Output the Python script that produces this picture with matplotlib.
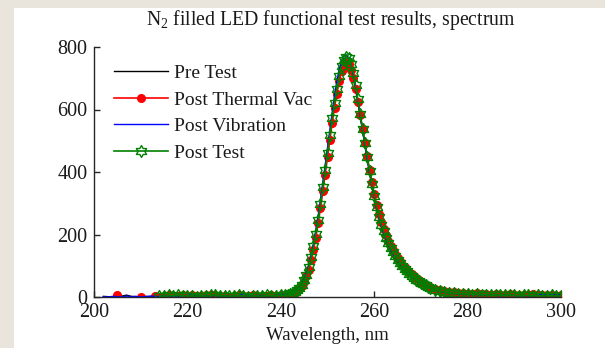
import numpy as np
import matplotlib
matplotlib.use("Agg")
import matplotlib.pyplot as plt
from matplotlib.path import Path
from matplotlib.patches import Rectangle

nan = float("nan")

# ---------------- data ----------------
wavelength = [
    202, 203, 204, 205, 206, 207, 208, 209, 210, 211, 212, 213, 214, 215, 216, 217, 218, 219, 220, 221,
    222, 223, 224, 225, 226, 227, 228, 229, 230, 231, 232, 233, 234, 235, 236, 237, 238, 239, 240, 241,
    241.5, 242, 242.5, 243, 243.5, 244, 244.5, 245, 245.5, 246,
    246.5, 247, 247.5, 248, 248.5, 249, 249.5, 250, 250.5, 251,
    251.5, 252, 252.5, 253, 253.5, 254, 254.5, 255, 255.5, 256,
    256.5, 257, 257.5, 258, 258.5, 259, 259.5, 260, 260.5, 261,
    261.5, 262, 262.5, 263, 263.5, 264, 264.5, 265, 265.5, 266,
    266.5, 267, 267.5, 268, 268.5, 269, 269.5, 270, 270.5, 271,
    271.5, 272,
    273, 274, 275, 276, 277, 278, 279, 280, 281, 282, 283, 284, 285, 286, 287, 288, 289, 290,
    291, 292, 293, 294, 295, 296, 297, 298, 299, 300,
]

pre_test = [
    2, 1, 0, 1, 3, 6, 2, 1, 0, 2, 1, 3, 2, 1, 3, 2, 4, 3, 2, 4,
    3, 2, 4, 5, 3, 4, 2, 3, 4, 3, 5, 4, 3, 5, 4, 5, 6, 5, 7, 8,
    10, 12, 15, 19, 24, 32, 42, 57, 76, 101,
    131, 167, 208, 254, 304, 359, 414, 470, 526, 580,
    630, 675, 714, 744, 762, 768, 762, 743, 713, 673,
    629, 583, 535, 489, 444, 400, 359, 320, 285, 254,
    229, 207, 188, 170, 155, 141, 128, 117, 106, 97,
    89, 81, 74, 67, 61, 55, 50, 45, 41, 37,
    33, 30,
    24, 19, 16, 14, 12, 11, 10, 9, 8, 9, 8, 7, 7, 6, 6, 5, 6, 5,
    4, 5, 4, 4, 5, 3, 4, 4, 3, 3,
]

post_thermal_vac = [
    nan, nan, nan, 8, nan, nan, nan, nan, 1, nan, nan, 2, 1, 3, 5, 2, 4, 6, 3, 5,
    2, 4, 6, 8, 5, 3, 4, 1, 2, 6, 4, 3, 5, 2, 4, 3, 5, 4, 6, 8,
    9, 10, 12, 14, 19, 26, 35, 48, 66, 88,
    118, 152, 190, 236, 285, 338, 392, 447, 503, 556,
    606, 650, 690, 722, 742, 750, 745, 728, 702, 665,
    625, 582, 537, 493, 450, 408, 368, 331, 296, 266,
    240, 218, 198, 180, 164, 150, 137, 125, 114, 104,
    95, 87, 80, 73, 66, 60, 54, 49, 44, 40,
    36, 33,
    27, 22, 18, 16, 15, 13, 14, 11, 10, 12, 9, 10, 8, 11, 7, 8, 9, 6,
    7, 8, 6, 9, 7, 5, 6, 8, 4, 5,
]

post_vibration = [
    1, 0, 2, 1, 0, 3, 1, 2, 0, 1, 3, 2, 1, 4, 2, 3, 1, 2, 5, 8,
    3, 2, 4, 3, 5, 2, 4, 3, 2, 5, 10, 4, 3, 6, 4, 5, 3, 6, 7, 9,
    11, 14, 20, 26, 24, 32, 43, 58, 78, 104,
    135, 172, 214, 260, 311, 367, 423, 480, 537, 593,
    645, 690, 728, 757, 772, 775, 766, 745, 713, 672,
    627, 580, 532, 486, 441, 397, 356, 318, 283, 252,
    227, 205, 185, 168, 153, 139, 127, 115, 105, 96,
    88, 80, 73, 66, 60, 54, 49, 44, 40, 36,
    32, 29,
    23, 18, 15, 13, 11, 10, 9, 8, 7, 8, 6, 7, 5, 6, 4, 5, 6, 4,
    3, 5, 4, 3, 7, 9, 5, 8, 6, 10,
]

post_test = [
    nan, nan, nan, nan, nan, nan, nan, nan, nan, nan, nan, nan, 3, 2, 5, 4, 6, 2, 4, 3,
    1, 4, 2, 5, 7, 3, 4, 2, 3, 5, 2, 1, 4, 3, 2, 5, 4, 3, 6, 5,
    7, 9, 11, 15, 21, 29, 39, 53, 72, 97,
    127, 163, 203, 248, 297, 352, 407, 462, 517, 572,
    622, 667, 707, 738, 758, 768, 764, 747, 718, 678,
    633, 587, 538, 492, 447, 402, 361, 322, 287, 256,
    232, 210, 190, 172, 157, 143, 130, 118, 108, 99,
    90, 82, 75, 68, 62, 56, 51, 46, 41, 37,
    33, 30,
    24, 19, 16, 14, 12, 11, 10, 9, 8, 9, 7, 8, 6, 7, 5, 6, 7, 5,
    4, 6, 5, 4, 5, 3, 4, 5, 3, 4,
]

series_labels = ["Pre Test", "Post Thermal Vac", "Post Vibration", "Post Test"]
x_ticks = [200, 220, 240, 260, 280, 300]
y_ticks = [0, 200, 400, 600, 800]

# ---------------- style ----------------
plt.rcParams["font.family"] = ["Liberation Serif", "DejaVu Serif"]
plt.rcParams["mathtext.fontset"] = "custom"
plt.rcParams["mathtext.rm"] = "Liberation Serif"
plt.rcParams["mathtext.it"] = "Liberation Serif:italic"

W, H = 605, 348
fig = plt.figure(figsize=(W / 100, H / 100), dpi=100, facecolor="white")
# beige frame strips (top and left)
fig.patches.append(Rectangle((0, 1 - 7.5 / H), 1, 7.5 / H, transform=fig.transFigure,
                             facecolor="#e9e5dc", edgecolor="none", zorder=-10))
fig.patches.append(Rectangle((0, 0), 14 / W, 1, transform=fig.transFigure,
                             facecolor="#e9e5dc", edgecolor="none", zorder=-10))

ax = fig.add_axes([94 / W, (H - 297) / H, 467 / W, 250 / H])
ax.set_facecolor("none")

# hexagram marker
ang_out = np.deg2rad(90 + 60 * np.arange(6))
ang_in = ang_out + np.deg2rad(30)
r_in = 1 / np.sqrt(3)
verts = []
for a, b in zip(ang_out, ang_in):
    verts.append((np.cos(a), np.sin(a)))
    verts.append((r_in * np.cos(b), r_in * np.sin(b)))
verts.append(verts[0])
codes = [Path.MOVETO] + [Path.LINETO] * 11 + [Path.CLOSEPOLY]
hexagram = Path(verts, codes)

wl = np.array(wavelength, dtype=float)
ax.plot(wl, pre_test, color="black", lw=1.0, label=series_labels[0])
ax.plot(wl, post_thermal_vac, color="#ff0000", lw=1.2, marker="o", ms=5.5,
        mec="#ff0000", mfc="#ff0000", label=series_labels[1])
ax.plot(wl, post_vibration, color="#0000ff", lw=1.0, label=series_labels[2])
ax.plot(wl, post_test, color="#008000", lw=1.2, marker=hexagram, ms=8.5, mew=1.0,
        mec="#008000", mfc="none", label=series_labels[3])

ax.set_xlim(200, 300)
ax.set_ylim(0, 800)
ax.set_xticks(x_ticks)
ax.set_yticks(y_ticks)
for s in ["top", "right"]:
    ax.spines[s].set_visible(False)
for s in ["left", "bottom"]:
    ax.spines[s].set_color("#262626")
    ax.spines[s].set_linewidth(1.0)
ax.tick_params(direction="in", length=4, width=1.0, colors="#262626",
               labelcolor="#1a1a1a", labelsize=14.5)
ax.tick_params(axis="x", pad=4.5)
ax.tick_params(axis="y", pad=4.5)

ax.set_xlabel("Wavelength, nm", fontsize=13.5, color="#1a1a1a", labelpad=3.5)
fig.text(0.5 * (147 + 515) / W, 1 - 25 / H,
         r"N$_\mathrm{2}$ filled LED functional test results, spectrum",
         ha="center", va="baseline", fontsize=14.2, color="#1a1a1a")

leg = ax.legend(loc="upper left", bbox_to_anchor=(114 / W, 1 - 64.5 / H),
                bbox_transform=fig.transFigure, frameon=False, fontsize=14,
                borderpad=0, borderaxespad=0, handlelength=2.8, handletextpad=0.3,
                labelspacing=0.46, numpoints=1)
for t in leg.get_texts():
    t.set_color("#1a1a1a")

fig.savefig("out.png", dpi=100, facecolor=fig.get_facecolor())
